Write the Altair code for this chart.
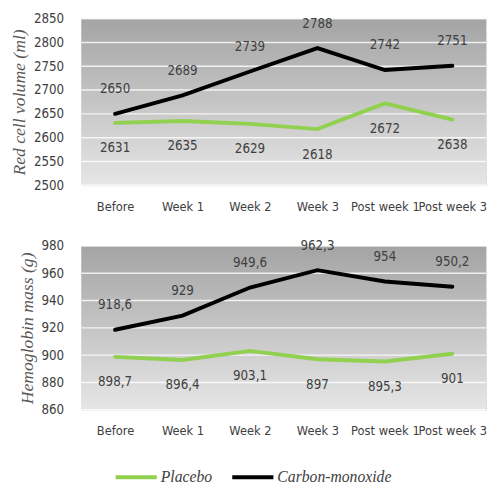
import altair as alt
import pandas as pd

# Measurement time points
categories = ["Before", "Week 1", "Week 2", "Week 3", "Post week 1", "Post week 3"]
series_names = ["Placebo", "Carbon-monoxide"]

# Red cell volume (ml)
rcv_placebo = [2631, 2635, 2629, 2618, 2672, 2638]
rcv_co = [2650, 2689, 2739, 2788, 2742, 2751]
rcv_ticks = [2500, 2550, 2600, 2650, 2700, 2750, 2800, 2850]

# Hemoglobin mass (g)
hb_placebo = [898.7, 896.4, 903.1, 897, 895.3, 901]
hb_co = [918.6, 929, 949.6, 962.3, 954, 950.2]
hb_ticks = [860, 880, 900, 920, 940, 960, 980]

GREEN = "#92d050"
BLACK = "#000000"
TEXT = "#404040"
SANS = "DejaVu Sans Condensed, Liberation Sans Narrow, sans-serif"
SCRIPT = "Liberation Serif"

PANEL_W = 413


def fmt(v):
    # decimal comma, integers without decimals
    return f"{v:g}".replace(".", ",")


def long_table(placebo, co):
    rows = []
    for name, vals in zip(series_names, [placebo, co]):
        for c, v in zip(categories, vals):
            rows.append({"category": c, "series": name, "value": v, "label": fmt(v)})
    return pd.DataFrame(rows)


def panel(placebo, co, ticks, title, height, x_pad):
    df = long_table(placebo, co)
    yscale = alt.Scale(domain=[min(ticks), max(ticks)], nice=False, zero=False)
    x_axis = alt.Axis(
        title=None, labelAngle=0, domain=False, ticks=False, grid=False,
        labelFont=SANS, labelFontSize=13, labelColor=TEXT, labelPadding=x_pad,
        labelOverlap=False,
    )
    y_axis = alt.Axis(
        values=ticks, format="d", grid=False, domain=False, ticks=False,
        labelOverlap=False, labelBound=False, labelFlush=False,
        labelFont=SANS, labelFontSize=13.5, labelColor=TEXT, labelPadding=18,
        title=title, titleFont=SCRIPT, titleFontStyle="italic", titleFontWeight="normal",
        titleFontSize=18, titleColor="#595959", titlePadding=5,
    )
    x = alt.X("category:N", sort=categories, axis=x_axis)

    bg_df = pd.DataFrame({"lo": [min(ticks)], "hi": [max(ticks)]})
    background = alt.Chart(bg_df).mark_rect(
        color=alt.Gradient(
            gradient="linear",
            stops=[
                alt.GradientStop(color="#a4a4a4", offset=0),
                alt.GradientStop(color="#e6e6e6", offset=1),
            ],
            x1=0, x2=0, y1=0, y2=1,
        )
    ).encode(
        x=alt.value(0), x2=alt.value(PANEL_W),
        y=alt.Y("hi:Q", scale=yscale, axis=y_axis), y2="lo:Q",
    )

    # white horizontal guide lines at every tick value
    grid = alt.Chart(pd.DataFrame({"tick": ticks})).mark_rule(
        color="white", strokeWidth=1.5, opacity=0.8
    ).encode(
        x=alt.value(0), x2=alt.value(PANEL_W),
        y=alt.Y("tick:Q", scale=yscale, axis=y_axis),
    )

    base = alt.Chart(df).encode(x=x, y=alt.Y("value:Q", scale=yscale, axis=y_axis))

    lines = base.mark_line(strokeWidth=4, strokeCap="round", strokeJoin="miter").encode(
        color=alt.Color(
            "series:N",
            scale=alt.Scale(domain=series_names, range=[GREEN, BLACK]),
            legend=alt.Legend(
                title=None, orient="none", direction="horizontal",
                legendX=33, legendY=445,
                symbolType="stroke", symbolSize=1764, symbolStrokeWidth=4,
                labelFont=SCRIPT, labelFontStyle="italic", labelFontSize=16,
                labelColor=TEXT, labelOffset=2, columnPadding=12,
            ),
        ),
        detail="series:N",
    )

    top_labels = base.transform_filter(alt.datum.series == "Carbon-monoxide").mark_text(
        dy=-25, font=SANS, fontSize=13.5, color=TEXT
    ).encode(text="label:N")
    bottom_labels = base.transform_filter(alt.datum.series == "Placebo").mark_text(
        dy=26, font=SANS, fontSize=13.5, color=TEXT
    ).encode(text="label:N")

    return alt.layer(background, grid, lines, top_labels, bottom_labels).properties(
        width=PANEL_W, height=height
    )


top = panel(rcv_placebo, rcv_co, rcv_ticks, "Red cell volume (ml)", 170, 16)
bottom = panel(hb_placebo, hb_co, hb_ticks, "Hemoglobin mass (g)", 167, 15)

chart = alt.vconcat(top, bottom, spacing=24).resolve_scale(color="shared").properties(
    padding={"left": 10, "top": 6, "right": 2, "bottom": 5}
).configure_view(stroke=None).configure(background="white")

chart.save("out.html", embed_options={"renderer": "svg", "actions": False})
